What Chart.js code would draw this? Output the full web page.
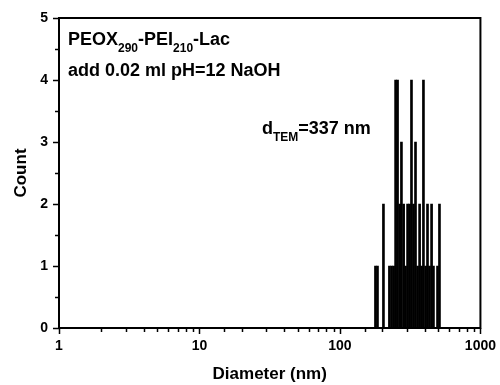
<!DOCTYPE html>
<html>
<head>
<meta charset="utf-8">
<script src="https://cdn.jsdelivr.net/npm/chart.js@4.4.1/dist/chart.umd.min.js"></script>
<style>
  html, body { margin: 0; padding: 0; background: #fff; }
</style>
</head>
<body>
<canvas id="tem-chart" width="500" height="385"></canvas>
<script>
// histogram: bin diameter (nm) and count
const diameters = [179, 185, 204, 225, 233, 241, 249, 257, 266, 274, 284, 293, 303, 313, 323, 334, 345, 357, 369, 381, 393, 407, 420, 434, 449, 463, 495, 511];
const counts =    [1,   1,   2,   1,   1,   1,   4,   4,   2,   3,   2,   1,   2,   2,   4,   2,   3,   1,   2,   1,   4,   1,   2,   1,   2,   1,   1,   2];

const xMin = 1, xMax = 1000;
const yMin = 0, yMax = 5;
const xMajorTicks = [1, 10, 100, 1000];

const labelFont = { family: 'Liberation Sans, Arial, sans-serif', weight: 'bold', size: 14 };
const titleFont = { family: 'Liberation Sans, Arial, sans-serif', weight: 'bold', size: 17 };

const ctx = document.getElementById('tem-chart');

// frame round the plot, plus outward ticks (long for labelled, short for minor)
const framePlugin = {
    id: 'frame',
    afterDraw(chart) {
        const c = chart.ctx;
        const a = chart.chartArea;
        c.save();
        c.strokeStyle = '#000';
        c.lineWidth = 2;
        c.strokeRect(a.left, a.top, a.right - a.left, a.bottom - a.top);

        c.lineWidth = 1.5;
        const xs = chart.scales.x;
        xs.ticks.forEach(t => {
            const px = Math.round(xs.getPixelForValue(t.value)) + 0.5;
            const len = xMajorTicks.includes(t.value) ? 5 : 3;
            c.beginPath();
            c.moveTo(px, a.bottom);
            c.lineTo(px, a.bottom + 1 + len);
            c.stroke();
        });
        const ys = chart.scales.y;
        ys.ticks.forEach(t => {
            const py = Math.round(ys.getPixelForValue(t.value)) + 0.5;
            const len = Number.isInteger(t.value) ? 5 : 3;
            c.beginPath();
            c.moveTo(a.left, py);
            c.lineTo(a.left - 1 - len, py);
            c.stroke();
        });
        c.restore();
    }
};

// the texts written inside the plot
const notesPlugin = {
    id: 'notes',
    afterDraw(chart) {
        const c = chart.ctx;
        c.save();
        c.fillStyle = '#000';
        c.textBaseline = 'alphabetic';
        const big = 'bold 18px "Liberation Sans", Arial, sans-serif';
        const small = 'bold 12px "Liberation Sans", Arial, sans-serif';

        // run of [text, isSubscript] pieces
        const run = (pieces, x, y) => {
            pieces.forEach(([s, sub]) => {
                c.font = sub ? small : big;
                c.fillText(s, x, sub ? y + 7 : y);
                x += c.measureText(s).width;
            });
        };
        run([['PEOX', false], ['290', true], ['-PEI', false], ['210', true], ['-Lac', false]], 68, 45);
        run([['add 0.02 ml pH=12 NaOH', false]], 68, 76);
        run([['d', false], ['TEM', true], ['=337 nm', false]], 262, 134);
        c.restore();
    }
};

const config = {
    type: 'bar',
    data: {
        datasets: [{
            label: 'Count',
            data: diameters.map((d, i) => ({ x: d, y: counts[i] })),
            backgroundColor: '#000',
            borderWidth: 0,
            barThickness: 2
        }]
    },
    options: {
        responsive: false,
        animation: false,
        layout: { padding: { top: 18, right: 19, left: 0, bottom: 0 } },
        plugins: {
            legend: { display: false },
            tooltip: { enabled: false }
        },
        scales: {
            x: {
                type: 'logarithmic',
                min: xMin,
                max: xMax,
                afterFit: s => { s.height = 57; },
                border: { color: '#000', width: 2 },
                grid: { drawOnChartArea: false, tickLength: 6, tickColor: 'rgba(0,0,0,0)' },
                ticks: {
                    color: '#000',
                    font: labelFont,
                    padding: 4,
                    autoSkip: false,
                    maxRotation: 0,
                    callback: v => xMajorTicks.includes(v) ? String(v) : ''
                },
                title: {
                    display: true,
                    text: 'Diameter (nm)',
                    color: '#000',
                    font: titleFont,
                    padding: { top: 0, bottom: 0 }
                }
            },
            y: {
                min: yMin,
                max: yMax,
                afterFit: s => { s.width = 59; },
                border: { color: '#000', width: 2 },
                grid: { drawOnChartArea: false, tickLength: 6, tickColor: 'rgba(0,0,0,0)' },
                ticks: {
                    color: '#000',
                    font: labelFont,
                    padding: 5,
                    stepSize: 0.5,
                    autoSkip: false,
                    callback: v => Number.isInteger(v) ? String(v) : ''
                },
                title: {
                    display: true,
                    text: 'Count',
                    color: '#000',
                    font: titleFont,
                    padding: { top: 11, bottom: 0 }
                }
            }
        }
    },
    plugins: [framePlugin, notesPlugin]
};

const temChart = new Chart(ctx, config);
</script>
</body>
</html>
